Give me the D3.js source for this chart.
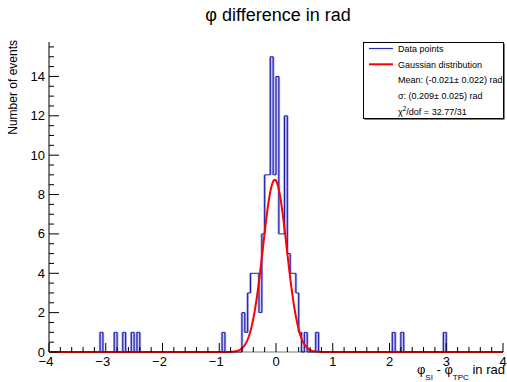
<!DOCTYPE html>
<html>
<head>
<meta charset="utf-8">
<script src="https://cdn.jsdelivr.net/npm/d3@7"></script>
<style>
  html, body { margin: 0; padding: 0; background: #fff; }
  svg { display: block; font-family: "Liberation Sans", Arial, Helvetica, sans-serif; }
</style>
</head>
<body>
<svg id="chart" width="507" height="382"></svg>
<script>
// Histogram of phi_SI - phi_TPC (rad): bin lower edges and counts (bin width 0.05)
const binWidth = 0.05;
const binLow = [-3.10, -2.85, -2.70, -2.55, -2.45, -0.95,
  -0.60, -0.55, -0.50, -0.45, -0.40, -0.35, -0.30, -0.25, -0.20, -0.15, -0.10, -0.05,
  0.00, 0.05, 0.10, 0.15, 0.20, 0.25, 0.30, 0.35, 0.40, 0.50, 0.70,
  2.05, 2.20, 2.95];
const binCount = [1, 1, 1, 1, 1, 1,
  2, 1, 3, 4, 4, 4, 2, 6, 9, 9, 15, 9,
  14, 6, 6, 12, 5, 4, 4, 3, 1, 1, 1,
  1, 1, 1];

// Gaussian fit: [amplitude, mean, sigma]
const fitParams = [8.75, -0.021, 0.209];

const xTicks = [-4, -3, -2, -1, 0, 1, 2, 3, 4];
const yTicks = [0, 2, 4, 6, 8, 10, 12, 14];
const xDomain = [-4, 4];
const yDomain = [0, 15.75];

const legendRows = [
  { type: "line", color: "#2b2bb0", text: "Data points" },
  { type: "line", color: "#ff0000", text: "Gaussian distribution" },
  { type: "text", text: "Mean: (-0.021\u00b1 0.022) rad" },
  { type: "text", text: "\u03c3: (0.209\u00b1 0.025) rad" },
  { type: "chi", text: "" }
];

const svg = d3.select("#chart");
const frame = { left: 49, right: 503, top: 42, bottom: 352 };

const x = d3.scaleLinear().domain(xDomain).range([frame.left, frame.right]);
const y = d3.scaleLinear().domain(yDomain).range([frame.bottom, frame.top]);

// Title
svg.append("text")
  .attr("x", 278).attr("y", 21)
  .attr("text-anchor", "middle")
  .attr("font-size", 18)
  .text("\u03c6 difference in rad");

// Full set of bins across the axis range
const nBins = Math.round((xDomain[1] - xDomain[0]) / binWidth);
const counts = new Array(nBins).fill(0);
binLow.forEach((lo, i) => {
  const k = Math.round((lo - xDomain[0]) / binWidth);
  counts[k] = binCount[i];
});

// Step outline of the histogram, plus its vertical edges for a soft halo
const stepPts = [[xDomain[0], 0]];
const edges = [];
let prev = 0;
counts.forEach((c, k) => {
  const lo = xDomain[0] + k * binWidth;
  if (c !== prev) edges.push([lo, prev, c]);
  stepPts.push([lo, c], [lo + binWidth, c]);
  prev = c;
});
stepPts.push([xDomain[1], 0]);
const stepLine = d3.line().x(d => x(d[0])).y(d => y(d[1]));

const histG = svg.append("g");
histG.selectAll("line.halo").data(edges).join("line")
  .attr("x1", d => x(d[0])).attr("x2", d => x(d[0]))
  .attr("y1", d => y(d[1])).attr("y2", d => y(d[2]))
  .attr("stroke", "#a9a9e6")
  .attr("stroke-width", 2.6);
histG.append("path")
  .attr("d", stepLine(stepPts))
  .attr("fill", "none")
  .attr("stroke", "#1a1aa8")
  .attr("stroke-width", 1);

// Gaussian fit curve
const gauss = v => fitParams[0] * Math.exp(-0.5 * Math.pow((v - fitParams[1]) / fitParams[2], 2));
const curvePts = d3.range(0, 801).map(i => {
  const v = xDomain[0] + i * (xDomain[1] - xDomain[0]) / 800;
  return [v, gauss(v)];
});
svg.append("path")
  .attr("d", d3.line().x(d => x(d[0])).y(d => y(d[1]))(curvePts))
  .attr("fill", "none")
  .attr("stroke", "#ff0000")
  .attr("stroke-width", 2);

// Axes (ticks drawn inside the frame)
const xAxis = svg.append("g").attr("transform", `translate(0,${frame.bottom})`);
const xMinor = d3.range(-4, 4.0001, 0.2).map(v => +v.toFixed(2));
xAxis.selectAll("line.minor").data(xMinor).join("line")
  .attr("x1", d => x(d)).attr("x2", d => x(d))
  .attr("y1", 0).attr("y2", d => Number.isInteger(d) ? -9 : -5)
  .attr("stroke", "#000").attr("stroke-width", 1);
xAxis.append("line")
  .attr("x1", frame.left).attr("x2", frame.right)
  .attr("y1", 0).attr("y2", 0)
  .attr("stroke", "#000").attr("stroke-opacity", 0.55).attr("stroke-width", 1);
xAxis.selectAll("text").data(xTicks).join("text")
  .attr("x", d => x(d) + (d < 0 ? -3 : 0)).attr("y", 14)
  .attr("text-anchor", "middle")
  .attr("font-size", 13)
  .text(d => d < 0 ? "\u2212" + Math.abs(d) : d);

const yAxis = svg.append("g").attr("transform", `translate(${frame.left},0)`);
const yMinor = d3.range(0, 15.5001, 0.5);
yAxis.selectAll("line.minor").data(yMinor).join("line")
  .attr("x1", 0).attr("x2", d => d % 2 === 0 ? 10 : 5)
  .attr("y1", d => y(d)).attr("y2", d => y(d))
  .attr("stroke", "#000").attr("stroke-width", 1);
yAxis.append("line")
  .attr("x1", 0).attr("x2", 0)
  .attr("y1", frame.top).attr("y2", frame.bottom)
  .attr("stroke", "#000").attr("stroke-width", 1);
yAxis.selectAll("text").data(yTicks).join("text")
  .attr("x", -4).attr("y", d => y(d) + 4.5)
  .attr("text-anchor", "end")
  .attr("font-size", 13)
  .text(d => d);

// Axis titles
svg.append("text")
  .attr("transform", "translate(17,40) rotate(-90)")
  .attr("text-anchor", "end")
  .attr("font-size", 12)
  .text("Number of events");

const xt = svg.append("text")
  .attr("x", 505).attr("y", 374)
  .attr("text-anchor", "end")
  .attr("font-size", 13);
xt.append("tspan").text("\u03c6");
xt.append("tspan").attr("font-size", 8).attr("dy", 6).text("SI");
xt.append("tspan").attr("dy", -6).text(" - \u03c6");
xt.append("tspan").attr("font-size", 8).attr("dy", 6).text("TPC");
xt.append("tspan").attr("dy", -6).text("  in rad");

// Legend box with drop shadow
const lg = { x: 363, y: 42, w: 140, h: 76 };
svg.append("rect")
  .attr("x", lg.x + 1.5).attr("y", lg.y + 1.5).attr("width", lg.w).attr("height", lg.h)
  .attr("fill", "#000");
svg.append("rect")
  .attr("x", lg.x + 0.5).attr("y", lg.y + 0.5).attr("width", lg.w).attr("height", lg.h)
  .attr("fill", "#fff").attr("stroke", "#000").attr("stroke-width", 1);

const rowH = 15.8;
legendRows.forEach((r, i) => {
  const cy = lg.y + 6.5 + i * rowH;
  if (r.type === "line") {
    svg.append("line")
      .attr("x1", lg.x + 6).attr("x2", lg.x + 30)
      .attr("y1", cy).attr("y2", cy)
      .attr("stroke", r.color).attr("stroke-width", r.color === "#ff0000" ? 2 : 1.2);
  }
  const t = svg.append("text")
    .attr("x", lg.x + 35).attr("y", cy + 3.2)
    .attr("font-size", 9);
  if (r.type === "chi") {
    t.append("tspan").text("\u03c7");
    t.append("tspan").attr("font-size", 6.5).attr("dy", -3.5).text("2");
    t.append("tspan").attr("dy", 3.5).text("/dof = 32.77/31");
  } else {
    t.text(r.text);
  }
});
</script>
</body>
</html>
